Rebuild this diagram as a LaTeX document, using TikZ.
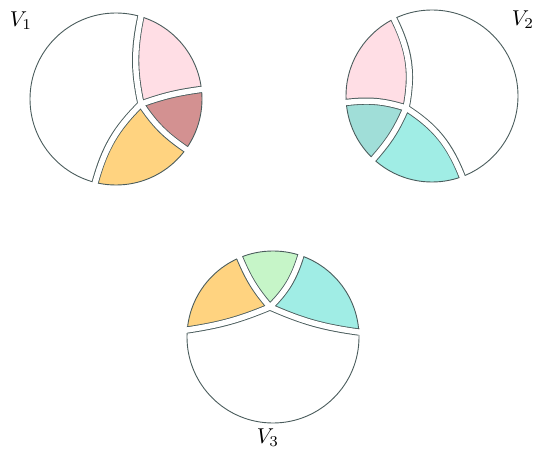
\documentclass[tikz,border=0pt]{standalone}
\usepackage{amsmath}
\usepackage{tikz}
\usetikzlibrary{calc}
\usepackage{xcolor}

\definecolor{rim}{RGB}{74,92,92}
\definecolor{pinkish}{RGB}{255,222,229}
\definecolor{rose}{RGB}{211,145,145}
\definecolor{mango}{RGB}{255,211,128}
\definecolor{tealish}{RGB}{160,222,216}
\definecolor{aqua}{RGB}{160,237,229}
\definecolor{mint}{RGB}{198,245,200}

\newcommand{\rad}{86}

\begin{document}
\begin{tikzpicture}[x=1pt, y=1pt]
	% Define styles for pieces and gaps
	\tikzstyle{rimline}=[draw=rim, line width=0.9pt]
	\tikzstyle{gapedge}=[draw=rim, line width=7.2pt]
	\tikzstyle{gap}=[draw=white, line width=5.4pt, shorten >=-3pt]
	\tikzstyle{every node}=[scale=2.15]
	
	\useasboundingbox (0,0) rectangle (537,455);
	
	\begin{scope}[shift={(116,356)}]
		\coordinate (p) at (25,-5);
		\coordinate (t) at (73.2:\rad);
		\coordinate (r) at (6.4:\rad);
		\coordinate (lr) at (-35.7:\rad);
		\coordinate (b) at (-104:\rad);
		
		\fill[pinkish] (p) to[bend left=12] (t) arc[start angle=73.2, end angle=6.4, radius=\rad] to[bend right=6] (p);
		\fill[rose] (p) to[bend left=6] (r) arc[start angle=6.4, end angle=-35.7, radius=\rad] to[bend left=11] (p);
		\fill[mango] (p) to[bend right=11] (lr) arc[start angle=-35.7, end angle=-104, radius=\rad] to[bend left=15] (p);
		
		\draw[rimline] (0,0) circle[radius=\rad];
		\draw[gapedge] (p) to[bend left=12] (t) (p) to[bend left=6] (r) (p) to[bend right=11] (lr) (p) to[bend right=15] (b);
		\foreach \q/\bd in {t/12, r/6, lr/-11, b/-15}
			\draw[gap] (p) to[bend left=\bd] (\q);
		
		\node (v1) at (-95,78) {$V_1$};
	\end{scope}
	
	\begin{scope}[shift={(432,359)}]
		\coordinate (p) at (-26,-12);
		\coordinate (t) at (116.3:\rad);
		\coordinate (l) at (184.3:\rad);
		\coordinate (ll) at (227.1:\rad);
		\coordinate (lr) at (290.5:\rad);
		
		\fill[pinkish] (p) to[bend right=19] (t) arc[start angle=116.3, end angle=184.3, radius=\rad] to[bend left=12] (p);
		\fill[tealish] (p) to[bend right=12] (l) arc[start angle=184.3, end angle=227.1, radius=\rad] to[bend right=9] (p);
		\fill[aqua] (p) to[bend left=9] (ll) arc[start angle=227.1, end angle=290.5, radius=\rad] to[bend right=18] (p);
		
		\draw[rimline] (0,0) circle[radius=\rad];
		\draw[gapedge] (p) to[bend right=19] (t) (p) to[bend right=12] (l) (p) to[bend left=9] (ll) (p) to[bend left=18] (lr);
		\foreach \q/\bd in {t/-19, l/-12, ll/9, lr/18}
			\draw[gap] (p) to[bend left=\bd] (\q);
		
		\node (v2) at (91,76) {$V_2$};
	\end{scope}
	
	\begin{scope}[shift={(273,118)}]
		\coordinate (p) at (-3,30);
		\coordinate (l) at (175.3:\rad);
		\coordinate (r) at (3.3:\rad);
		\coordinate (ul) at (112.8:\rad);
		\coordinate (ur) at (71.1:\rad);
		
		\fill[mango] (p) to[bend left=9] (ul) arc[start angle=112.8, end angle=175.3, radius=\rad] to[bend right=7] (p);
		\fill[mint] (p) to[bend right=14] (ur) arc[start angle=71.1, end angle=112.8, radius=\rad] to[bend right=9] (p);
		\fill[aqua] (p) to[bend right=8] (r) arc[start angle=3.3, end angle=71.1, radius=\rad] to[bend left=14] (p);
		
		\draw[rimline] (0,0) circle[radius=\rad];
		\draw[gapedge] (p) to[bend left=7] (l) (p) to[bend right=8] (r) (p) to[bend left=9] (ul) (p) to[bend right=14] (ur);
		\foreach \q/\bd in {l/7, r/-8, ul/9, ur/-14}
			\draw[gap] (p) to[bend left=\bd] (\q);
		
		\node (v3) at (-5,-101) {$V_3$};
	\end{scope}
	
\end{tikzpicture}
\end{document}
